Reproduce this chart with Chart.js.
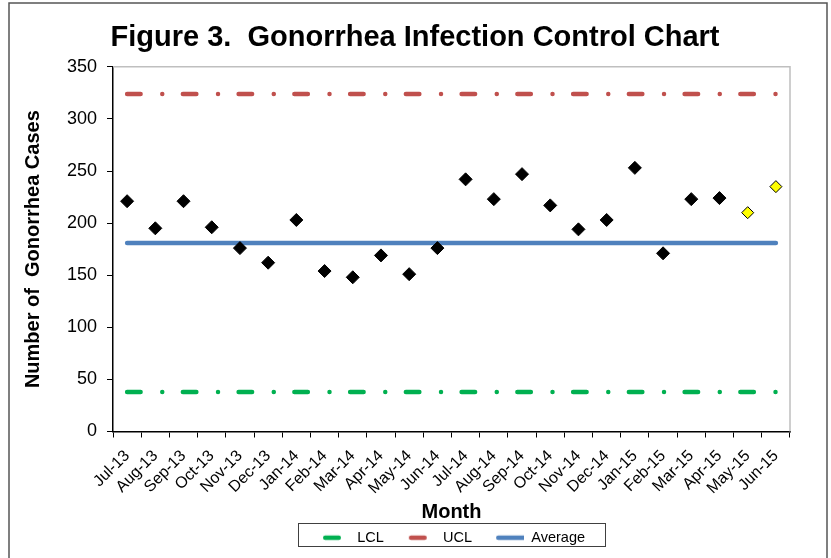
<!DOCTYPE html>
<html>
<head>
<meta charset="utf-8">
<script src="https://cdn.jsdelivr.net/npm/chart.js@4/dist/chart.umd.min.js"></script>
<style>
  html, body { margin: 0; padding: 0; background: #fff; }
</style>
</head>
<body>
<canvas id="controlChart" width="831" height="558"></canvas>
<script>
// Monthly gonorrhea cases, Jul-13 .. Jun-15
const months = ['Jul-13', 'Aug-13', 'Sep-13', 'Oct-13', 'Nov-13', 'Dec-13',
  'Jan-14', 'Feb-14', 'Mar-14', 'Apr-14', 'May-14', 'Jun-14',
  'Jul-14', 'Aug-14', 'Sep-14', 'Oct-14', 'Nov-14', 'Dec-14',
  'Jan-15', 'Feb-15', 'Mar-15', 'Apr-15', 'May-15', 'Jun-15'];
const cases = [221, 195, 221, 196, 176, 162, 203, 154, 148, 169, 151, 176,
  242, 223, 247, 217, 194, 203, 253, 171, 223, 224, null, null];
// last two months are preliminary (yellow)
const preliminary = [null, null, null, null, null, null, null, null, null, null, null, null,
  null, null, null, null, null, null, null, null, null, null, 210, 235];
const averageValue = 181;
const uclValue = 324;
const lclValue = 38;
const yTicks = [0, 50, 100, 150, 200, 250, 300, 350];

const lclLine = months.map(() => lclValue);
const uclLine = months.map(() => uclValue);
const avgLine = months.map(() => averageValue);

Chart.defaults.font.family = 'Arial, "Liberation Sans", sans-serif';
Chart.defaults.color = '#000';

// little canvas used as legend symbol: a thick line with round ends
const LEGEND_BOX = 48;
function legendSymbol(color, x0, x1) {
  const c = document.createElement('canvas');
  c.width = LEGEND_BOX;
  c.height = 8;
  const g = c.getContext('2d');
  g.strokeStyle = color;
  g.lineWidth = 4.5;
  g.lineCap = 'round';
  g.beginPath();
  g.moveTo(x0 + 2.25, 4);
  g.lineTo(x1 - 2.25, 4);
  g.stroke();
  return c;
}
const legendSymbols = {
  LCL: legendSymbol('#00b050', 21, 39),
  UCL: legendSymbol('#c0504d', 21, 39),
  Average: legendSymbol('#4f81bd', 20, 53)
};

// white background, outer frame, plot border, legend box
const framePlugin = {
  id: 'frame',
  afterLayout(chart) {
    // title centred on the whole canvas, legend a little left of the plot centre
    chart.titleBlock.left += 15;
    chart.titleBlock.right += 15;
    chart.legend.left -= 8;
    chart.legend.right -= 8;
  },
  beforeDraw(chart) {
    const ctx = chart.ctx;
    ctx.save();
    ctx.fillStyle = '#fff';
    ctx.fillRect(0, 0, chart.width, chart.height);
    ctx.strokeStyle = '#555';
    ctx.lineWidth = 1.5;
    ctx.strokeRect(9, 3, chart.width - 4 - 9, chart.height + 20);
    ctx.restore();
  },
  beforeDatasetsDraw(chart) {
    const a = chart.chartArea;
    const ctx = chart.ctx;
    ctx.save();
    ctx.strokeStyle = '#bfbfbf';
    ctx.lineWidth = 1.5;
    ctx.beginPath();
    ctx.moveTo(a.left, a.top);
    ctx.lineTo(a.right, a.top);
    ctx.lineTo(a.right, a.bottom);
    ctx.stroke();
    ctx.restore();
  },
  afterDraw(chart) {
    const boxes = chart.legend.legendHitBoxes;
    if (!boxes || !boxes.length) return;
    const left = Math.min(...boxes.map(b => b.left)) - 4;
    const right = Math.max(...boxes.map(b => b.left + b.width)) + 20;
    const top = Math.min(...boxes.map(b => b.top)) - 8;
    const bottom = Math.max(...boxes.map(b => b.top + b.height));
    const ctx = chart.ctx;
    ctx.save();
    ctx.strokeStyle = '#404040';
    ctx.lineWidth = 1;
    ctx.strokeRect(Math.round(left) + 0.5, Math.round(top) + 0.5, Math.round(right - left), Math.round(bottom - top));
    ctx.restore();
  }
};

// long dash, dot pattern of the control limits
const limitLine = (label, data, color) => ({
  label: label,
  data: data,
  borderColor: color,
  backgroundColor: color,
  borderWidth: 4.5,
  borderDash: [13.5, 21.65, 0.01, 20.59],
  borderCapStyle: 'round',
  pointRadius: 0,
  pointHoverRadius: 0,
  fill: false
});

new Chart(document.getElementById('controlChart'), {
  type: 'line',
  data: {
    labels: months,
    datasets: [
      {
        label: 'Cases',
        data: cases,
        showLine: false,
        pointStyle: 'rectRot',
        pointRadius: 6.5,
        pointBackgroundColor: '#000',
        pointBorderColor: '#000',
        pointBorderWidth: 1
      },
      {
        label: 'Preliminary',
        data: preliminary,
        showLine: false,
        pointStyle: 'rectRot',
        pointRadius: 6,
        pointBackgroundColor: '#ffff00',
        pointBorderColor: '#000',
        pointBorderWidth: 1
      },
      limitLine('LCL', lclLine, '#00b050'),
      limitLine('UCL', uclLine, '#c0504d'),
      {
        label: 'Average',
        data: avgLine,
        borderColor: '#4f81bd',
        backgroundColor: '#4f81bd',
        borderWidth: 4.5,
        borderCapStyle: 'round',
        pointRadius: 0,
        fill: false
      }
    ]
  },
  options: {
    responsive: false,
    animation: false,
    layout: { padding: { left: 10, right: 41, top: 0, bottom: 3 } },
    plugins: {
      title: {
        display: true,
        text: 'Figure 3.  Gonorrhea Infection Control Chart',
        font: { size: 29, weight: 'bold' },
        padding: { top: 21, bottom: 11 }
      },
      legend: {
        position: 'bottom',
        fullSize: false,
        labels: {
          usePointStyle: true,
          pointStyleWidth: LEGEND_BOX,
          padding: 4,
          font: { size: 14.5 },
          filter: item => ['LCL', 'UCL', 'Average'].includes(item.text),
          generateLabels(chart) {
            const items = Chart.defaults.plugins.legend.labels.generateLabels(chart);
            return items.map(it => Object.assign(it, {
              pointStyle: legendSymbols[it.text] || 'line'
            }));
          }
        }
      },
      tooltip: { enabled: false }
    },
    scales: {
      x: {
        offset: true,
        afterFit(scale) { scale.height = 95; },
        grid: { offset: true, drawOnChartArea: false, tickLength: 6, color: '#000' },
        border: { color: '#000', width: 1.5 },
        ticks: { autoSkip: false, minRotation: 45, maxRotation: 45, font: { size: 16 }, padding: 9 },
        title: { display: true, text: 'Month', font: { size: 20, weight: 'bold' }, padding: { top: 0, bottom: 2 } }
      },
      y: {
        min: yTicks[0],
        max: yTicks[yTicks.length - 1],
        afterFit(scale) { scale.width = 103; },
        afterBuildTicks(scale) {
          scale.ticks = yTicks.map(v => ({ value: v }));
        },
        grid: { drawOnChartArea: false, tickLength: 6, color: '#000' },
        border: { color: '#000', width: 1.5 },
        ticks: { font: { size: 18 }, padding: 10 },
        title: { display: true, text: 'Number of  Gonorrhea Cases', font: { size: 20, weight: 'bold' }, padding: { top: 11, bottom: 0 } }
      }
    }
  },
  plugins: [framePlugin]
});
</script>
</body>
</html>
